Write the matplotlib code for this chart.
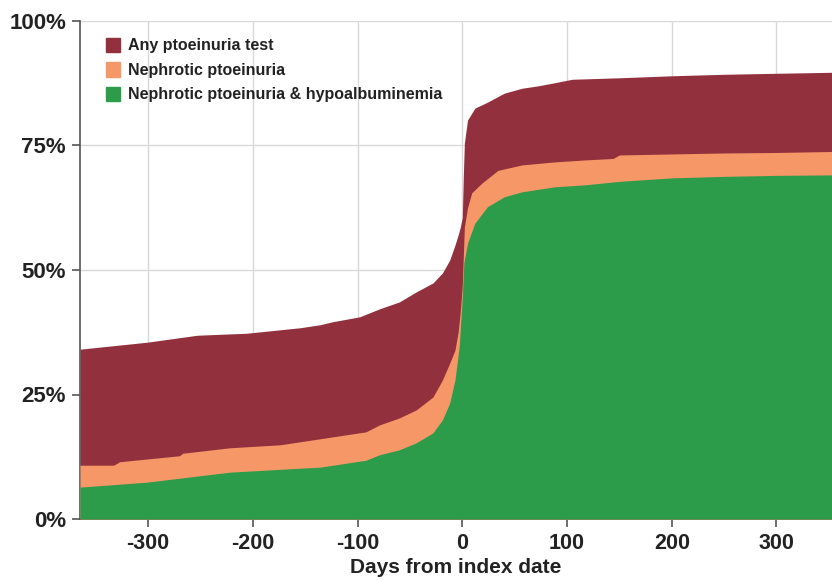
import matplotlib
matplotlib.use("Agg")
from matplotlib import pyplot as plt, patches

# Days from index date and cumulative share (%) for each outcome
days_any = [-365, -301, -253, -206, -155, -136, -124, -98, -79, -60, -44, -28, -19, -12, -7, -4,
            -2, 0, 1, 2, 5, 12, 24, 40, 57, 73, 88, 105, 150, 200, 250, 300, 353]
pct_any = [34.1, 35.5, 36.9, 37.3, 38.4, 39.0, 39.6, 40.6, 42.2, 43.6, 45.6, 47.4, 49.4, 52.0, 55.0, 57.0,
           58.5, 60.5, 69.0, 75.5, 80.1, 82.5, 83.7, 85.5, 86.5, 87.0, 87.6, 88.3, 88.6, 89.0, 89.3, 89.5, 89.7]

days_neph = [-365, -333, -327, -270, -267, -222, -174, -136, -92, -79, -60, -44, -28, -19, -12, -7,
             -4, -2, 0, 2, 5, 9, 19, 34, 57, 88, 117, 144, 150, 200, 250, 300, 353]
pct_neph = [10.8, 10.8, 11.5, 12.7, 13.2, 14.3, 14.9, 16.1, 17.5, 18.9, 20.3, 21.9, 24.5, 27.9, 31.3, 33.9,
            37.5, 41.4, 47.0, 58.6, 62.5, 65.5, 67.5, 70.0, 71.1, 71.7, 72.1, 72.4, 73.1, 73.3, 73.5, 73.6, 73.8]

days_hypo = [-365, -301, -222, -155, -136, -92, -79, -60, -44, -28, -19, -12, -7, -3, 0, 1.5, 5,
             12, 24, 40, 57, 88, 117, 150, 200, 250, 300, 353]
pct_hypo = [6.4, 7.4, 9.4, 10.2, 10.4, 11.8, 12.9, 13.9, 15.3, 17.3, 19.9, 23.3, 27.9, 34.5, 44.6, 51.4, 55.4,
            59.4, 62.7, 64.7, 65.7, 66.7, 67.1, 67.8, 68.5, 68.8, 69.0, 69.1]

series_labels = ["Any ptoeinuria test", "Nephrotic ptoeinuria", "Nephrotic ptoeinuria & hypoalbuminemia"]
colors = ["#93303E", "#F69767", "#2C9B4A"]
x_ticks = [-300, -200, -100, 0, 100, 200, 300]
y_ticks = [0, 25, 50, 75, 100]

plt.rcParams['font.family'] = ["Liberation Sans", "DejaVu Sans"]

fig = plt.figure(figsize=(8.32, 5.82), dpi=100)
ax = fig.add_axes([80 / 832, 63 / 582, 1 - 80 / 832, (519 - 21) / 582])

ax.fill_between(days_any, 0, pct_any, color=colors[0], lw=0, zorder=2)
ax.fill_between(days_neph, 0, pct_neph, color=colors[1], lw=0, zorder=3)
ax.fill_between(days_hypo, 0, pct_hypo, color=colors[2], lw=0, zorder=4)

ax.set_xlim(-365, 353)
ax.set_ylim(0, 100)
ax.set_xticks(x_ticks)
ax.set_xticklabels([str(t) for t in x_ticks], fontsize=15.5, fontweight='bold')
ax.set_yticks(y_ticks)
ax.set_yticklabels([f"{t}%" for t in y_ticks], fontsize=16, fontweight='bold')
ax.grid(True, color="#d9d9d9", lw=1, zorder=0)
ax.set_axisbelow(True)

for s in ['top', 'right']:
    ax.spines[s].set_visible(False)
for s in ['left', 'bottom']:
    ax.spines[s].set_color("#555555")
    ax.spines[s].set_linewidth(1.2)
ax.tick_params(direction='out', length=6, width=1.2, color="#555555", colors="#222222", pad=4)

ax.set_xlabel("Days from index date", fontsize=15, fontweight='bold', color="#222222", labelpad=3)

handles = [patches.Patch(color=c, label=l) for c, l in zip(colors, series_labels)]
leg = ax.legend(handles=handles, loc='upper left', bbox_to_anchor=(0.015, 0.995), frameon=False,
                prop={'weight': 'bold', 'size': 11.5}, handlelength=0.9, handleheight=1.0,
                handletextpad=0.5, labelspacing=0.55)
for t in leg.get_texts():
    t.set_color("#222222")

fig.savefig("out.png", dpi=100)
